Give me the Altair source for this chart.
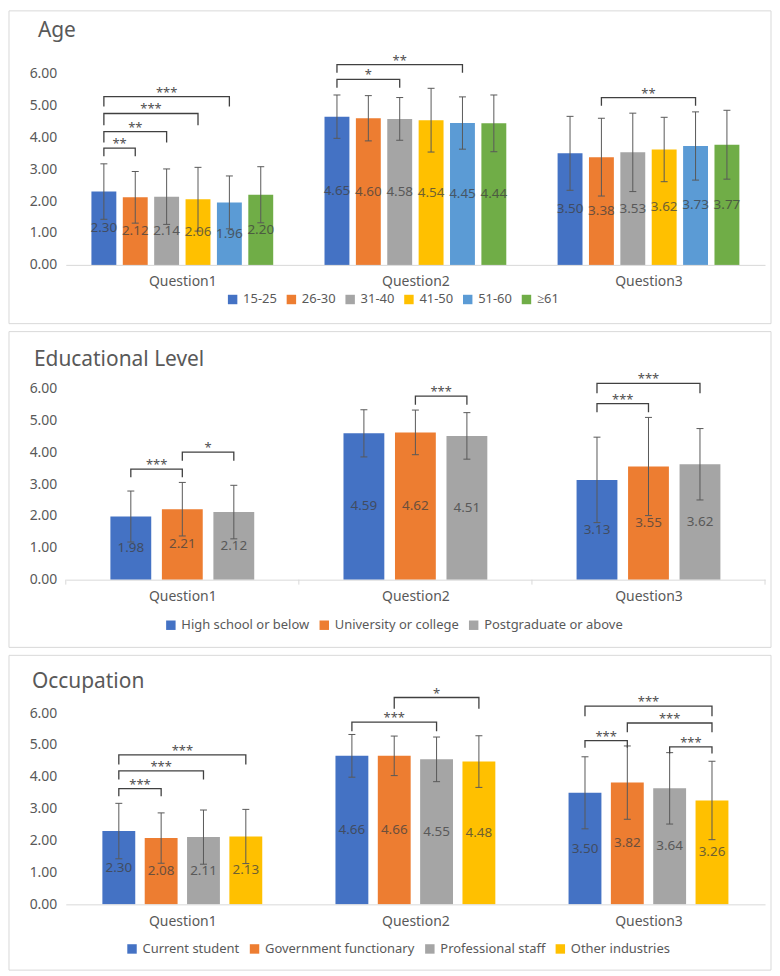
import altair as alt
import pandas as pd

FONT = "Noto Sans"
TXT = "#595959"
DARK = "#404040"

questions = ["Question1", "Question2", "Question3"]

# ---------------- Age ----------------
age_groups = ["15-25", "26-30", "31-40", "41-50", "51-60", "≥61"]
age_colors = ["#4472C4", "#ED7D31", "#A5A5A5", "#FFC000", "#5B9BD5", "#70AD47"]
age_mean_q1 = [2.30, 2.12, 2.14, 2.06, 1.96, 2.20]
age_mean_q2 = [4.65, 4.60, 4.58, 4.54, 4.45, 4.44]
age_mean_q3 = [3.50, 3.38, 3.53, 3.62, 3.73, 3.77]
age_sd_q1 = [0.87, 0.81, 0.87, 1.00, 0.83, 0.88]
age_sd_q2 = [0.68, 0.71, 0.67, 1.00, 0.82, 0.89]
age_sd_q3 = [1.16, 1.22, 1.23, 1.01, 1.07, 1.08]
age_br_q = [0, 0, 0, 0, 1, 1, 2]
age_br_a = [0, 0, 0, 0, 0, 0, 1]
age_br_b = [1, 2, 3, 4, 2, 4, 4]
age_br_top = [3.66, 4.18, 4.75, 5.28, 5.82, 6.28, 5.25]
age_br_leg = [3.41, 3.84, 4.38, 4.97, 5.56, 6.03, 4.99]
age_br_lab = ["**", "**", "***", "***", "*", "**", "**"]

# ---------------- Educational Level ----------------
edu_groups = ["High school or below", "University or college", "Postgraduate or above"]
edu_colors = ["#4472C4", "#ED7D31", "#A5A5A5"]
edu_mean_q1 = [1.98, 2.21, 2.12]
edu_mean_q2 = [4.59, 4.62, 4.51]
edu_mean_q3 = [3.13, 3.55, 3.62]
edu_sd_q1 = [0.80, 0.84, 0.84]
edu_sd_q2 = [0.74, 0.70, 0.73]
edu_sd_q3 = [1.34, 1.54, 1.12]
edu_br_q = [0, 0, 1, 2, 2]
edu_br_a = [0, 1, 1, 0, 0]
edu_br_b = [1, 2, 2, 1, 2]
edu_br_top = [3.47, 4.00, 5.76, 5.52, 6.16]
edu_br_leg = [3.21, 3.73, 5.49, 5.25, 5.85]
edu_br_lab = ["***", "*", "***", "***", "***"]

# ---------------- Occupation ----------------
occ_groups = ["Current student", "Government functionary", "Professional staff", "Other industries"]
occ_colors = ["#4472C4", "#ED7D31", "#A5A5A5", "#FFC000"]
occ_mean_q1 = [2.30, 2.08, 2.11, 2.13]
occ_mean_q2 = [4.66, 4.66, 4.55, 4.48]
occ_mean_q3 = [3.50, 3.82, 3.64, 3.26]
occ_sd_q1 = [0.87, 0.79, 0.85, 0.85]
occ_sd_q2 = [0.67, 0.62, 0.70, 0.81]
occ_sd_q3 = [1.13, 1.15, 1.12, 1.23]
occ_br_q = [0, 0, 0, 1, 1, 2, 2, 2, 2]
occ_br_a = [0, 0, 0, 0, 1, 0, 1, 0, 2]
occ_br_b = [1, 2, 3, 2, 3, 3, 3, 1, 3]
occ_br_top = [3.63, 4.19, 4.69, 5.72, 6.49, 6.22, 5.69, 5.14, 4.94]
occ_br_leg = [3.39, 3.92, 4.39, 5.43, 6.14, 5.90, 5.40, 4.91, 4.73]
occ_br_lab = ["***", "***", "***", "***", "*", "***", "***", "***", "***"]

y_ticks = [0, 1, 2, 3, 4, 5, 6]

W, H = 702, 192

label_expr = "[" + ",".join(f"'{q}'" for q in questions) + "][datum.value]"
X_AXIS = alt.Axis(values=[0, 1, 2], labelExpr=label_expr, ticks=False, grid=False,
                  domainColor="#d9d9d9", labelFontSize=14, labelColor=TXT,
                  labelFont=FONT, labelPadding=10, labelOverlap=False, zindex=1)
Y_AXIS = alt.Axis(values=y_ticks, format=".2f", grid=False, labelOverlap=False,
                  domain=False, ticks=False, labelFontSize=14, labelColor=TXT,
                  labelFont=FONT, labelPadding=9, zindex=1)
XSCALE = alt.Scale(domain=[-0.5, 2.5], nice=False, zero=False)
YSCALE = alt.Scale(domain=[0, 6], nice=False)


def X(f):
    return alt.X(f, scale=XSCALE, axis=X_AXIS, title=None)


def Y(f):
    return alt.Y(f, scale=YSCALE, axis=Y_AXIS, title=None)


def panel(title, groups, colors, means, sds, br_q, br_a, br_b, br_top, br_leg, br_lab,
          step, barw, box, title_pos, legend_pos, dividers=False):
    n = len(groups)
    c = (n - 1) / 2
    rows = []
    for qi in range(3):
        for gi in range(n):
            rows.append({"q": qi, "g": gi, "group": groups[gi],
                         "mean": means[qi][gi], "sd": sds[qi][gi]})
    df = pd.DataFrame(rows)
    capw = 3.5 / 234
    base = alt.Chart(df).transform_calculate(
        pos=f"datum.q + (datum.g - {c}) * {step}",
        xa=f"datum.q + (datum.g - {c}) * {step} - {barw / 2}",
        xb=f"datum.q + (datum.g - {c}) * {step} + {barw / 2}",
        ca=f"datum.q + (datum.g - {c}) * {step} - {capw}",
        cb=f"datum.q + (datum.g - {c}) * {step} + {capw}",
        lo="datum.mean - datum.sd",
        hi="datum.mean + datum.sd",
        mid="datum.mean / 2",
    )

    bars = base.mark_rect().encode(
        x=X("xa:Q"),
        x2="xb:Q",
        y=Y("mean:Q"),
        y2=alt.datum(0),
        color=alt.Color("group:N", scale=alt.Scale(domain=groups, range=colors),
                        legend=alt.Legend(orient="none", legendX=legend_pos[0],
                                          legendY=legend_pos[1], direction="horizontal",
                                          title=None, symbolType="square", symbolSize=90,
                                          symbolStrokeWidth=0, labelFontSize=13,
                                          labelColor=TXT, labelFont=FONT, columnPadding=8,
                                          labelOffset=4, padding=0, labelLimit=300)),
    )
    err = base.mark_rule(color=TXT, strokeWidth=1).encode(x=X("pos:Q"), y=Y("lo:Q"), y2="hi:Q")
    cap_hi = base.mark_rule(color=TXT, strokeWidth=1).encode(x=X("ca:Q"), x2="cb:Q", y=Y("hi:Q"))
    cap_lo = base.mark_rule(color=TXT, strokeWidth=1).encode(x=X("ca:Q"), x2="cb:Q", y=Y("lo:Q"))
    labels = base.mark_text(font=FONT, fontSize=13.5, color=DARK, opacity=0.75,
                            baseline="middle").encode(
        x=X("pos:Q"), y=Y("mid:Q"), text=alt.Text("mean:Q", format=".2f"))

    # brackets
    brows = []
    srows = []
    for i in range(len(br_q)):
        pts = [(br_a[i], br_leg[i]), (br_a[i], br_top[i]), (br_b[i], br_top[i]), (br_b[i], br_leg[i])]
        for k, (g, v) in enumerate(pts):
            brows.append({"bid": i, "k": k, "q": br_q[i], "g": g, "v": v})
        srows.append({"q": br_q[i], "gm": (br_a[i] + br_b[i]) / 2, "top": br_top[i], "lab": br_lab[i]})
    bdf = pd.DataFrame(brows)
    sdf = pd.DataFrame(srows)
    bracket = alt.Chart(bdf).transform_calculate(
        pos=f"datum.q + (datum.g - {c}) * {step}"
    ).mark_line(color=DARK, strokeWidth=1.3).encode(
        x=X("pos:Q"), y=Y("v:Q"), detail="bid:N", order="k:Q")
    stars = alt.Chart(sdf).transform_calculate(
        pos=f"datum.q + (datum.gm - {c}) * {step}"
    ).mark_text(font=FONT, fontSize=13, color="#505050", baseline="alphabetic", dy=0).encode(
        x=X("pos:Q"), y=Y("top:Q"), text="lab:N")

    one = pd.DataFrame({"t": [title]})
    border = alt.Chart(one).mark_rect(fill="white", fillOpacity=0, stroke="#d9d9d9",
                                      strokeWidth=1).encode(
        x=alt.value(box[0]), x2=alt.value(box[1]), y=alt.value(box[2]), y2=alt.value(box[3]))
    ttl = alt.Chart(one).mark_text(font=FONT, fontSize=21, color=TXT, align="left",
                                   baseline="alphabetic").encode(
        x=alt.value(title_pos[0]), y=alt.value(title_pos[1]), text="t:N")

    layers = [border, bars, err, cap_hi, cap_lo, labels, bracket, stars, ttl]
    if dividers:
        ddf = pd.DataFrame({"d": [-0.5, 0.5, 1.5, 2.5]})
        layers.append(alt.Chart(ddf).mark_rule(color="#d9d9d9").encode(
            x=X("d:Q"), y=alt.value(H), y2=alt.value(H + 5)))
    return alt.layer(*layers).properties(width=W, height=H)


p1 = panel("Age", age_groups, age_colors,
           [age_mean_q1, age_mean_q2, age_mean_q3], [age_sd_q1, age_sd_q2, age_sd_q3],
           age_br_q, age_br_a, age_br_b, age_br_top, age_br_leg, age_br_lab,
           step=31.5 / 234, barw=25 / 234, box=(-57, 708, -63, 251),
           title_pos=(-28, -37), legend_pos=(161, 220))
p2 = panel("Educational Level", edu_groups, edu_colors,
           [edu_mean_q1, edu_mean_q2, edu_mean_q3], [edu_sd_q1, edu_sd_q2, edu_sd_q3],
           edu_br_q, edu_br_a, edu_br_b, edu_br_top, edu_br_leg, edu_br_lab,
           step=51.7 / 234, barw=41 / 234, box=(-57, 708, -57, 260),
           title_pos=(-32, -22), legend_pos=(99, 231), dividers=True)
p3 = panel("Occupation", occ_groups, occ_colors,
           [occ_mean_q1, occ_mean_q2, occ_mean_q3], [occ_sd_q1, occ_sd_q2, occ_sd_q3],
           occ_br_q, occ_br_a, occ_br_b, occ_br_top, occ_br_leg, occ_br_lab,
           step=42.5 / 234, barw=33 / 234, box=(-57, 708, -58, 258),
           title_pos=(-34, -25), legend_pos=(60, 230))

chart = alt.vconcat(p1, p2, p3, spacing=6).resolve_scale(
    color="independent", x="independent", y="independent"
).resolve_legend(color="independent").properties(
    padding={"left": 0, "top": 0, "right": 0, "bottom": 0},
    background="white",
).configure_view(stroke=None)

chart.save("out.html", embed_options={"renderer": "svg", "actions": False})
